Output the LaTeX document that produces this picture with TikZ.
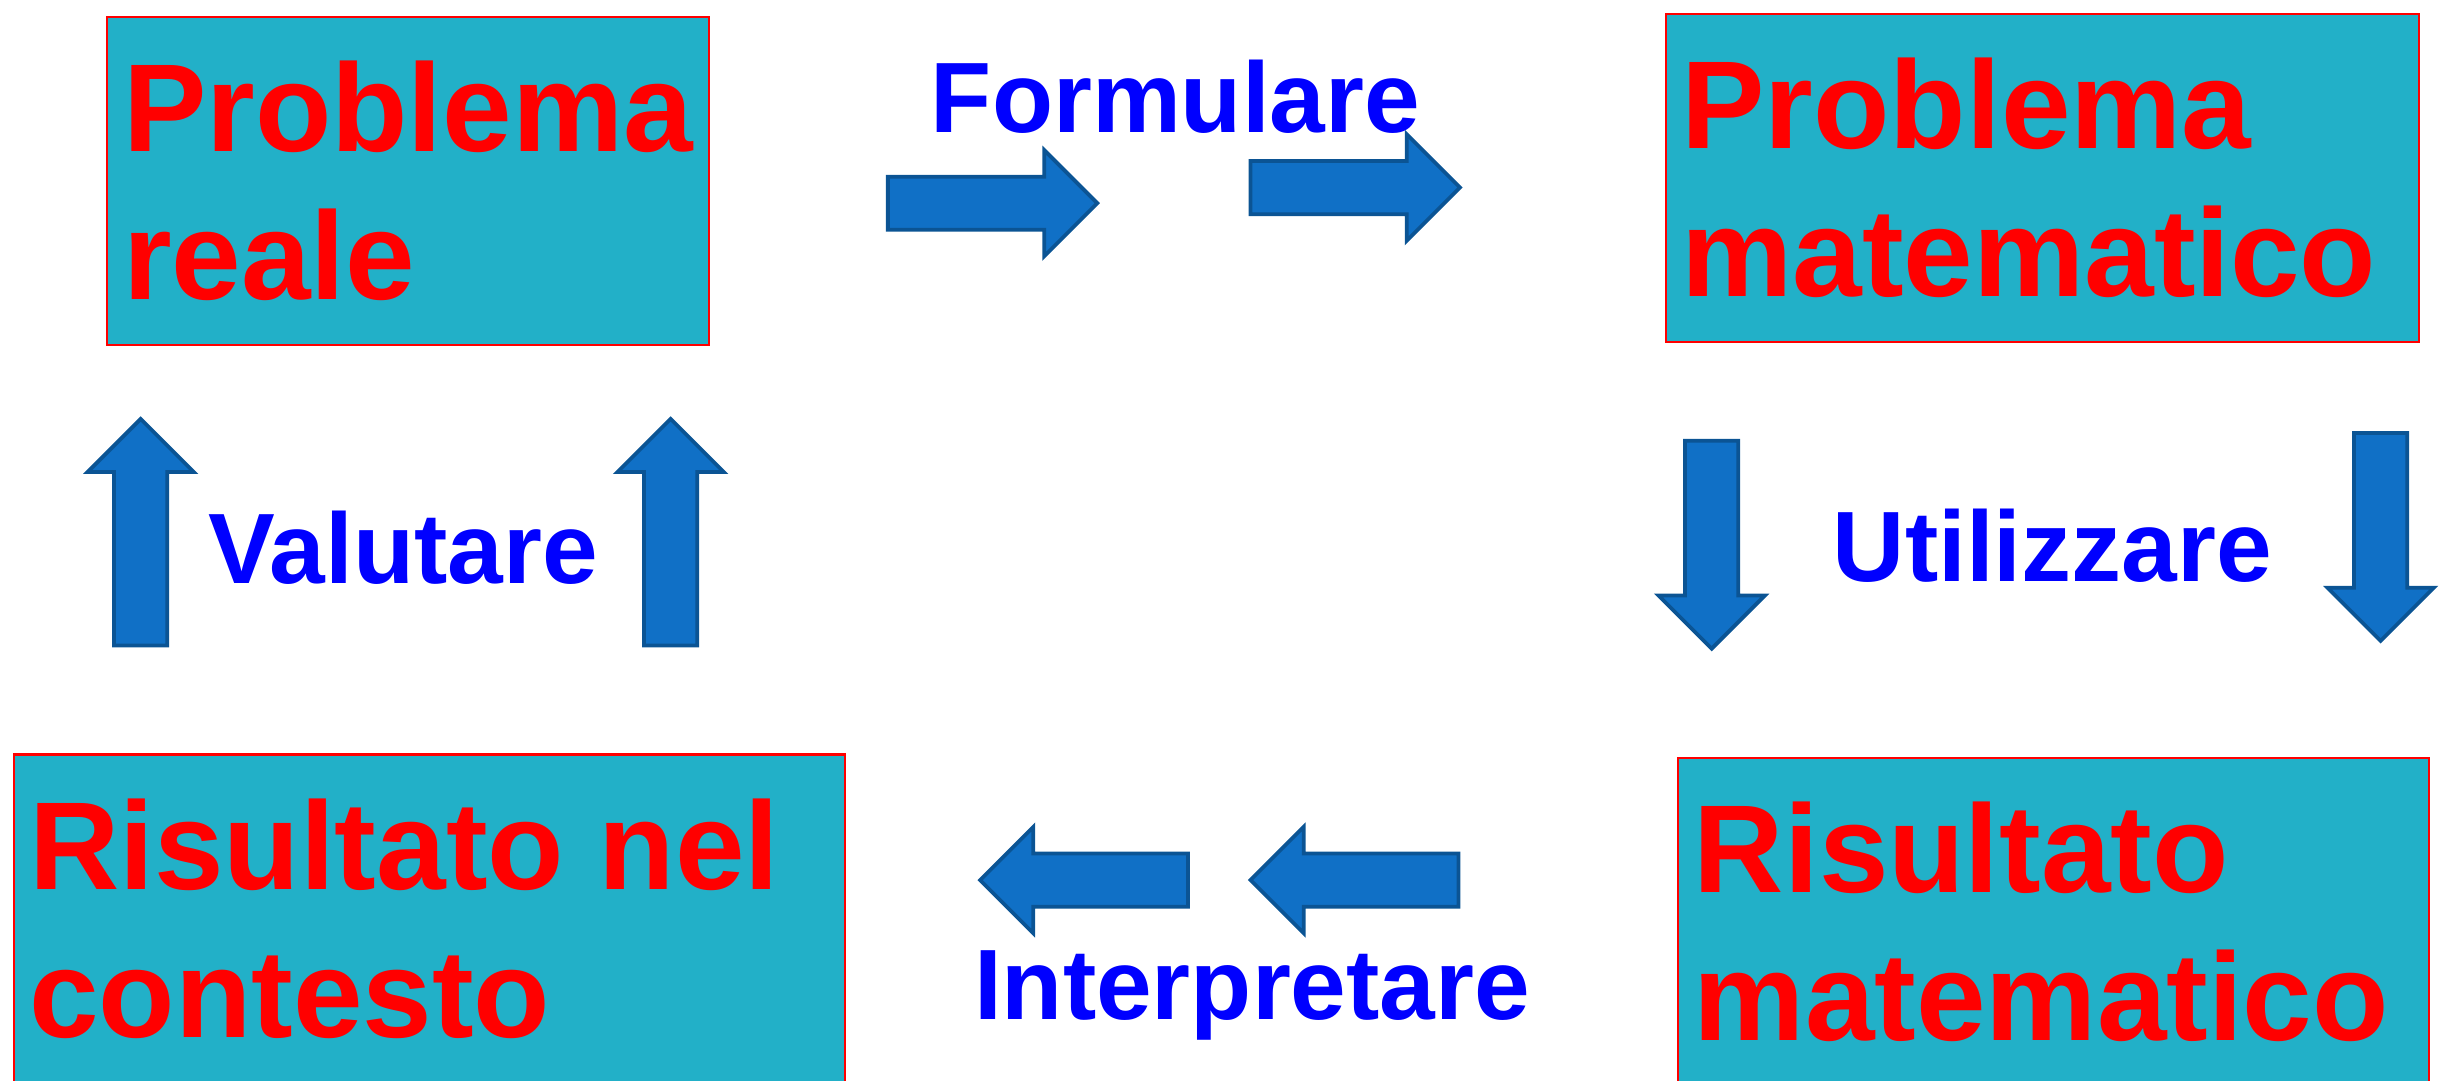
\documentclass[tikz,border=0pt]{standalone}
\usepackage{fontspec}
\setmainfont{Liberation Sans}
\definecolor{boxfill}{RGB}{34,176,200}
\definecolor{arrowfill}{RGB}{16,112,198}
\definecolor{arrowedge}{RGB}{11,84,148}
\tikzset{
  box/.style={draw=red, line width=0.7pt, fill=boxfill, anchor=north west, minimum height=105pt,
    inner xsep=5pt, inner ysep=0pt, align=flush left, text=red, font=\fontsize{40}{47.5}\selectfont\bfseries},
  verb/.style={text=blue, anchor=base, font=\fontsize{32}{38}\selectfont\bfseries},
  arrowbody/.style={draw=arrowedge, line width=1.2pt, fill=arrowfill, line join=miter},
  pics/blockarrow/.style={code={
    \draw[arrowbody] (0,-17) -- ({#1-34},-17) -- ({#1-34},-34) -- (#1,0) -- ({#1-34},34) -- ({#1-34},17) -- (0,17) -- cycle;
  }}
}
\begin{document}
\begin{tikzpicture}[x=0.5pt, y=-0.5pt]
  \useasboundingbox (0,0) rectangle (1568,691);
  \clip (0,0) rectangle (1568,691);
  \node[box, text width=182.5pt] (reale) at (68,10) {Problema\\reale};
  \node[box, text width=231pt] (matematico) at (1065,8) {Problema\\matematico};
  \node[box, text width=230pt] (risultato) at (1073,484) {Risultato\\matematico};
  \node[box, text width=256pt] (contesto) at (8,482) {Risultato nel\\contesto};
  \node[verb] (formulare) at (752,85) {Formulare};
  \node[verb] (utilizzare) at (1313,372) {Utilizzare};
  \node[verb] (valutare) at (258,373) {Valutare};
  \node[verb] (interpretare) at (801,652) {Interpretare};
  \foreach \x/\y/\r/\l in {568/130/0/134, 800/120/0/134, 1095/282/-90/133, 1523/277/-90/133,
      760/563/180/133, 933/563/180/133, 90/413/90/145, 429/413/90/145}
    \pic[rotate=\r] at (\x,\y) {blockarrow=\l};
\end{tikzpicture}
\end{document}
